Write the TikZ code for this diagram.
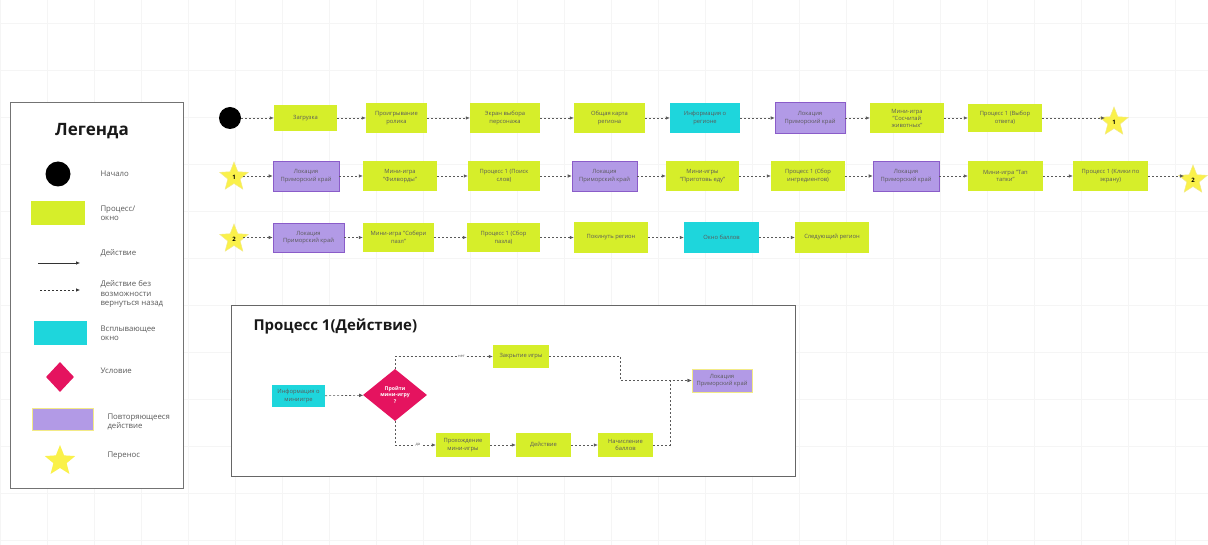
\documentclass[tikz,border=0pt]{standalone}
\usepackage{fontspec}
\setmainfont{Open Sans}
\usetikzlibrary{arrows.meta,shapes.geometric}
\definecolor{lime}{HTML}{D6EE2A}
\definecolor{cyanbox}{HTML}{1ED6DC}
\definecolor{purplebox}{HTML}{B29AE6}
\definecolor{purpleedge}{HTML}{8A5CC9}
\definecolor{magentadia}{HTML}{E5135F}
\definecolor{staryel}{HTML}{FAF14A}
\definecolor{staredge}{HTML}{F3EA86}
\definecolor{txt}{HTML}{5A5A5A}
\begin{document}
\begin{tikzpicture}[x=1pt,y=-1pt,
  boxbase/.style={rectangle, align=center, inner sep=1pt, font=\fontsize{5.8}{7.6}\selectfont, text=txt},
  ybox/.style={boxbase, fill=lime},
  cbox/.style={boxbase, fill=cyanbox},
  pbox/.style={boxbase, fill=purplebox, draw=purpleedge, line width=0.6pt},
  pboxy/.style={boxbase, fill=purplebox, draw=staredge, line width=0.8pt},
  transfer/.style={star, star points=5, star point ratio=2.3, fill=staryel, draw=staredge, line width=0.5pt, minimum size=30pt, inner sep=0pt, font=\fontsize{6}{6}\selectfont\bfseries, text=black},
  dar/.style={draw=black!65, line width=0.6pt, dash pattern=on 2pt off 2pt, -{Latex[length=4pt,width=3.5pt]}},
  sar/.style={draw=black!80, line width=0.6pt, -{Latex[length=4pt,width=3.5pt]}},
  legtxt/.style={anchor=west, align=left, font=\fontsize{7.8}{9.4}\selectfont, text=txt},
  lbl/.style={fill=white, inner sep=0.6pt, font=\fontsize{4}{4}\selectfont, text=txt}
]
\useasboundingbox (0,0) rectangle (1208,545);
\fill[white] (0,0) rectangle (1208,545);
% grid
\foreach \x in {0,47,...,1208} \draw[black!4, line width=0.4pt] (\x,0) -- (\x,545);
\foreach \y in {23,70,...,545} \draw[black!4, line width=0.4pt] (0,\y) -- (1208,\y);

% ---------- Row 1 ----------
\node[circle, fill=black, minimum size=22pt, inner sep=0pt] (start) at (230,118) {};
\node[ybox, minimum width=63pt, minimum height=26pt] (r1a) at (305.5,118) {Загрузка};
\node[ybox, minimum width=61pt, minimum height=30pt] (r1b) at (396.5,118) {Проигрывание\\ролика};
\node[ybox, minimum width=70pt, minimum height=30pt] (r1c) at (505,118) {Экран выбора\\персонажа};
\node[ybox, minimum width=71pt, minimum height=30pt] (r1d) at (609.5,118) {Общая карта\\региона};
\node[cbox, minimum width=70pt, minimum height=30pt] (r1e) at (705,118) {Информация о\\регионе};
\node[pbox, minimum width=70pt, minimum height=31pt] (r1f) at (810,118) {Локация\\Приморский край};
\node[ybox, minimum width=74pt, minimum height=30pt, font=\fontsize{5.8}{7}\selectfont] (r1g) at (907,118) {Мини-игра\\"Сосчитай\\животных"};
\node[ybox, minimum width=74pt, minimum height=28pt] (r1h) at (1005,118) {Процесс 1 (Выбор\\ответа)};
\node[transfer] (st1) at (1114,122) {1};
\draw[dar] (start) -- (r1a);
\draw[dar] (r1a) -- (r1b);
\draw[dar] (r1b) -- (r1c);
\draw[dar] (r1c) -- (r1d);
\draw[dar] (r1d) -- (r1e);
\draw[dar] (r1e) -- (r1f);
\draw[dar] (r1f) -- (r1g);
\draw[dar] (r1g) -- (r1h);
\draw[dar] (r1h.east) -- (st1.west |- r1h.east);

% ---------- Row 2 ----------
\node[transfer] (st1b) at (234,177) {1};
\node[pbox, minimum width=66pt, minimum height=30pt] (r2a) at (306,176) {Локация\\Приморский край};
\node[ybox, minimum width=74pt, minimum height=30pt] (r2b) at (400,176) {Мини-игра\\"Филворды"};
\node[ybox, minimum width=72pt, minimum height=30pt] (r2c) at (504,176) {Процесс 1 (Поиск\\слов)};
\node[pbox, minimum width=65pt, minimum height=30pt] (r2d) at (604.5,176) {Локация\\Приморский край};
\node[ybox, minimum width=73pt, minimum height=30pt] (r2e) at (702.5,176) {Мини-игры\\"Приготовь еду"};
\node[ybox, minimum width=74pt, minimum height=30pt] (r2f) at (808,176) {Процесс 1 (Сбор\\ингредиентов)};
\node[pbox, minimum width=66pt, minimum height=30pt] (r2g) at (906,176) {Локация\\Приморский край};
\node[ybox, minimum width=75pt, minimum height=30pt] (r2h) at (1005.5,176) {Мини-игра "Тап\\тапки"};
\node[ybox, minimum width=75pt, minimum height=30pt] (r2i) at (1110.5,176) {Процесс 1 (Клики по\\экрану)};
\node[transfer] (st2) at (1193,180) {2};
\draw[dar] (st1b.east |- r2a.west) -- (r2a);
\draw[dar] (r2a) -- (r2b);
\draw[dar] (r2b) -- (r2c);
\draw[dar] (r2c) -- (r2d);
\draw[dar] (r2d) -- (r2e);
\draw[dar] (r2e) -- (r2f);
\draw[dar] (r2f) -- (r2g);
\draw[dar] (r2g) -- (r2h);
\draw[dar] (r2h) -- (r2i);
\draw[dar] (r2i.east) -- (st2.west |- r2i.east);

% ---------- Row 3 ----------
\node[transfer] (st2b) at (234,239) {2};
\node[pbox, minimum width=71pt, minimum height=29pt] (r3a) at (308.5,237.5) {Локация\\Приморский край};
\node[ybox, minimum width=71pt, minimum height=29pt] (r3b) at (398.5,237.5) {Мини-игра "Собери\\пазл"};
\node[ybox, minimum width=73pt, minimum height=29pt] (r3c) at (503.5,237.5) {Процесс 1 (Сбор\\пазла)};
\node[ybox, minimum width=74pt, minimum height=31pt] (r3d) at (611,237.5) {Покинуть регион};
\node[cbox, minimum width=75pt, minimum height=31pt] (r3e) at (721.5,237.5) {Окно баллов};
\node[ybox, minimum width=74pt, minimum height=31pt] (r3f) at (832,237.5) {Следующий регион};
\draw[dar] (st2b.east |- r3a.west) -- (r3a);
\draw[dar] (r3a) -- (r3b);
\draw[dar] (r3b) -- (r3c);
\draw[dar] (r3c) -- (r3d);
\draw[dar] (r3d) -- (r3e);
\draw[dar] (r3e) -- (r3f);

% ---------- Legend ----------
\draw[black!55, line width=0.9pt, fill=white] (10,102) rectangle (183,488);
\node[font=\fontsize{17}{20}\selectfont\bfseries, text=black!90] (legtitle) at (92,131) {Легенда};
\node[circle, fill=black, minimum size=25pt, inner sep=0pt] (lg1) at (58,174) {};
\node[legtxt] (lt1) at (97,174) {Начало};
\node[rectangle, fill=lime, minimum width=54pt, minimum height=24pt] (lg2) at (58,213) {};
\node[legtxt] (lt2) at (97,213) {Процесс/\\окно};
\coordinate (la1) at (38,263);
\coordinate (la2) at (80,263);
\draw[sar] (la1) -- (la2);
\node[legtxt] (lt3) at (97,253) {Действие};
\coordinate (lb1) at (40,290);
\coordinate (lb2) at (80,290);
\draw[dar, draw=black!80] (lb1) -- (lb2);
\node[legtxt] (lt4) at (97,294) {Действие без\\возможности\\вернуться назад};
\node[rectangle, fill=cyanbox, minimum width=53pt, minimum height=24pt] (lg5) at (60.5,333) {};
\node[legtxt] (lt5) at (97,333) {Всплывающее\\окно};
\node[diamond, fill=magentadia, minimum width=28pt, minimum height=30pt, inner sep=0pt] (lg6) at (60,377) {};
\node[legtxt] (lt6) at (97,371) {Условие};
\node[rectangle, fill=purplebox, draw=staredge, line width=0.8pt, minimum width=61pt, minimum height=22pt] (lg7) at (62.5,419) {};
\node[legtxt] (lt7) at (104,422) {Повторяющееся\\действие};
\node[transfer, minimum size=32pt, draw=none] (lg8) at (60,461) {};
\node[legtxt] (lt8) at (104,456) {Перенос};

% ---------- Process 1 box ----------
\draw[black!60, line width=0.9pt, fill=white] (231,305) rectangle (795,476);
\node[anchor=west, font=\fontsize{15}{18}\selectfont\bfseries, text=black!90] (ptitle) at (250,326) {Процесс 1(Действие)};
\node[cbox, minimum width=53pt, minimum height=22pt] (pinfo) at (298.5,396) {Информация о\\миниигре};
\node[diamond, fill=magentadia, minimum width=64pt, minimum height=52pt, inner sep=0pt, align=center, text=white, font=\fontsize{5.2}{6.2}\selectfont\bfseries] (pdia) at (395,395) {Пройти\\мини-игру\\?};
\node[ybox, minimum width=56pt, minimum height=23pt] (pclose) at (521,356.5) {Закрытие игры};
\node[ybox, minimum width=54pt, minimum height=24pt] (ppass) at (463,445) {Прохождение\\мини-игры};
\node[ybox, minimum width=55pt, minimum height=24pt] (pact) at (543.5,445) {Действие};
\node[ybox, minimum width=55pt, minimum height=24pt] (pscore) at (625.5,445) {Начисление\\баллов};
\node[pboxy, minimum width=60pt, minimum height=23pt] (ploc) at (722,380.5) {Локация\\Приморский край};
\draw[dar] (pinfo) -- (pdia);
\draw[dar] (pdia.north) |- (pclose.west) node[lbl, pos=0.84] {нет};
\draw[dar] (pdia.south) |- (ppass.west) node[lbl, pos=0.78] {да};
\draw[dar] (ppass) -- (pact);
\draw[dar] (pact) -- (pscore);
\draw[dar] (pclose.east) -- ++(71,0) |- (ploc.west);
\draw[dar] (pscore.east) -- ++(17,0) |- (ploc.west);
\end{tikzpicture}
\end{document}
